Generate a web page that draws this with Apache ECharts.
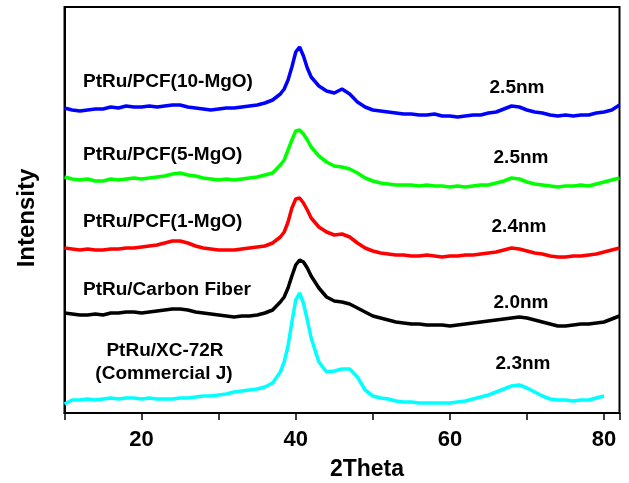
<!DOCTYPE html>
<html>
<head>
<meta charset="utf-8">
<title>XRD patterns</title>
<script src="https://cdn.jsdelivr.net/npm/echarts@6/dist/echarts.min.js"></script>
<style>
  html, body { margin: 0; padding: 0; background: #fff; }
  #chart { width: 629px; height: 483px; }
</style>
</head>
<body>
<div id="chart"></div>
<script>
/* XRD patterns of PtRu catalysts, stacked traces (ECharts). */

// 2Theta positions shared by all traces
const twoTheta = [
  10, 11, 12, 13, 14, 15, 16, 17, 18, 19, 20, 21, 22, 23, 24, 25, 26, 27, 28, 29,
  30, 31, 32, 33, 34, 35, 36, 37, 38, 38.5, 39, 39.5, 40, 40.5, 41, 41.5, 42,
  43, 44, 45, 46, 47, 48, 49, 50, 51, 52, 53, 54, 55, 56, 57, 58, 59, 60, 61,
  62, 63, 64, 65, 66, 67, 68, 69, 70, 71, 72, 73, 74, 75, 76, 77, 78, 79, 80, 81, 82
];

// offset intensities (arbitrary units)
const pcf10 = [
  305, 303, 302, 303, 304, 304, 306, 305, 307, 306, 306, 307, 306, 307, 308, 308, 306, 305, 304, 303,
  304, 305, 305, 306, 307, 308, 310, 313, 319, 324, 333, 346, 361, 366, 357, 345, 336,
  327, 322, 320, 324, 319, 311, 306, 303, 302, 301, 300, 299, 299, 298, 298, 299, 297, 297, 296,
  297, 298, 298, 300, 301, 304, 307, 306, 303, 301, 300, 298, 297, 298, 297, 298, 298, 300, 301, 303, 308
];
const pcf5 = [
  236, 234, 233, 234, 232, 232, 234, 233, 234, 235, 234, 235, 236, 237, 239, 240, 238, 237, 235, 234,
  233, 234, 233, 234, 235, 236, 238, 240, 248, 253, 263, 273, 282, 283, 279, 273, 266,
  257, 251, 247, 246, 244, 240, 235, 232, 230, 229, 228, 228, 228, 227, 228, 227, 227, 226, 227,
  226, 227, 228, 228, 230, 232, 235, 234, 231, 229, 228, 227, 226, 227, 227, 228, 227, 229, 231, 233, 235
];
const pcf1 = [
  165, 164, 163, 164, 163, 163, 164, 164, 165, 165, 166, 167, 168, 170, 172, 172, 170, 167, 165, 164,
  163, 163, 163, 164, 165, 166, 167, 170, 176, 181, 191, 205, 214, 215, 210, 203, 195,
  186, 181, 178, 179, 176, 170, 165, 162, 160, 159, 158, 158, 157, 157, 158, 157, 156, 157, 157,
  158, 158, 159, 160, 161, 163, 165, 164, 162, 160, 159, 157, 156, 156, 157, 157, 158, 159, 161, 163, 165
];
const carbonFiber = [
  100, 99, 98, 98, 99, 98, 100, 100, 101, 101, 100, 101, 102, 103, 104, 104, 103, 101, 100, 99,
  98, 97, 96, 97, 97, 98, 100, 103, 111, 116, 125, 137, 148, 153, 151, 145, 137,
  125, 116, 112, 111, 109, 105, 101, 97, 95, 93, 91, 90, 89, 89, 88, 88, 88, 87, 88,
  89, 90, 91, 92, 93, 94, 95, 96, 95, 93, 91, 89, 87, 87, 88, 89, 89, 90, 91, 94, 97
];
const xc72r = [
  9, 13, 13, 14, 13, 14, 15, 14, 15, 15, 14, 15, 14, 14, 14, 15, 15, 16, 17, 17,
  18, 19, 21, 22, 23, 24, 26, 30, 41, 51, 67, 91, 113, 120, 110, 93, 75,
  51, 41, 42, 44, 44, 36, 23, 17, 15, 14, 12, 11, 11, 10, 10, 10, 10, 10, 11,
  12, 14, 16, 18, 21, 24, 27, 28, 25, 21, 17, 14, 13, 13, 12, 13, 13, 15, 17, null, null
];

const seriesNames = ["PtRu/PCF(10-MgO)", "PtRu/PCF(5-MgO)", "PtRu/PCF(1-MgO)", "PtRu/Carbon Fiber", "PtRu/XC-72R"];
const seriesColors = ["#0000ff", "#00ff00", "#ff0000", "#000000", "#00ffff"];
const seriesValues = [pcf10, pcf5, pcf1, carbonFiber, xc72r];
const sizeLabels = ["2.5nm", "2.5nm", "2.4nm", "2.0nm", "2.3nm"];

const FONT = "Arial, 'Liberation Sans', sans-serif";

const chart = echarts.init(document.getElementById("chart"), null, { renderer: "canvas" });

function textItem(text, x, y, size, align, rotation) {
  return {
    type: "text",
    x: x,
    y: y,
    rotation: rotation || 0,
    style: {
      text: text,
      font: "bold " + size + "px " + FONT,
      fill: "#000",
      align: align || "left",
      verticalAlign: "middle"
    },
    z: 10
  };
}

const labelLeft = [
  ["PtRu/PCF(10-MgO)", 83, 82],
  ["PtRu/PCF(5-MgO)", 83, 155],
  ["PtRu/PCF(1-MgO)", 83, 222],
  ["PtRu/Carbon Fiber", 83, 290]
];
const labelSize = [[517, 88], [521, 158], [519, 227], [521, 303], [523, 364]];

const graphics = [];
labelLeft.forEach((l) => graphics.push(textItem(l[0], l[1], l[2], 19, "left")));
graphics.push(textItem("PtRu/XC-72R", 165, 351, 19, "center"));
graphics.push(textItem("(Commercial J)", 164, 374, 19, "center"));
sizeLabels.forEach((s, i) => graphics.push(textItem(s, labelSize[i][0], labelSize[i][1], 19, "center")));
graphics.push(textItem("2Theta", 367, 470, 23, "center"));
graphics.push(textItem("Intensity", 27, 218, 24, "center", Math.PI / 2));

chart.setOption({
  animation: false,
  backgroundColor: "#fff",
  grid: { left: 64.5, right: 9.5, top: 7, bottom: 70, show: true, borderColor: "#000", borderWidth: 2 },
  xAxis: {
    type: "value",
    min: 10,
    max: 82,
    interval: 10,
    axisLine: { show: true, lineStyle: { color: "#000", width: 2 } },
    axisTick: { show: true, inside: false, length: 7, lineStyle: { color: "#000", width: 1.5 } },
    axisLabel: {
      margin: 16,
      color: "#000",
      fontFamily: FONT,
      fontWeight: "bold",
      fontSize: 22,
      formatter: (v) => (v % 20 === 0 ? String(v) : "")
    },
    splitLine: { show: false }
  },
  yAxis: {
    type: "value",
    min: 0,
    max: 406,
    axisLine: { show: true, lineStyle: { color: "#000", width: 2 } },
    axisTick: { show: false },
    axisLabel: { show: false },
    splitLine: { show: false }
  },
  graphic: graphics,
  series: seriesValues.map((vals, i) => ({
    name: seriesNames[i],
    type: "line",
    symbol: "none",
    smooth: false,
    lineStyle: { color: seriesColors[i], width: 3.5 },
    data: twoTheta.map((t, k) => [t, vals[k]])
  }))
});
</script>
</body>
</html>
